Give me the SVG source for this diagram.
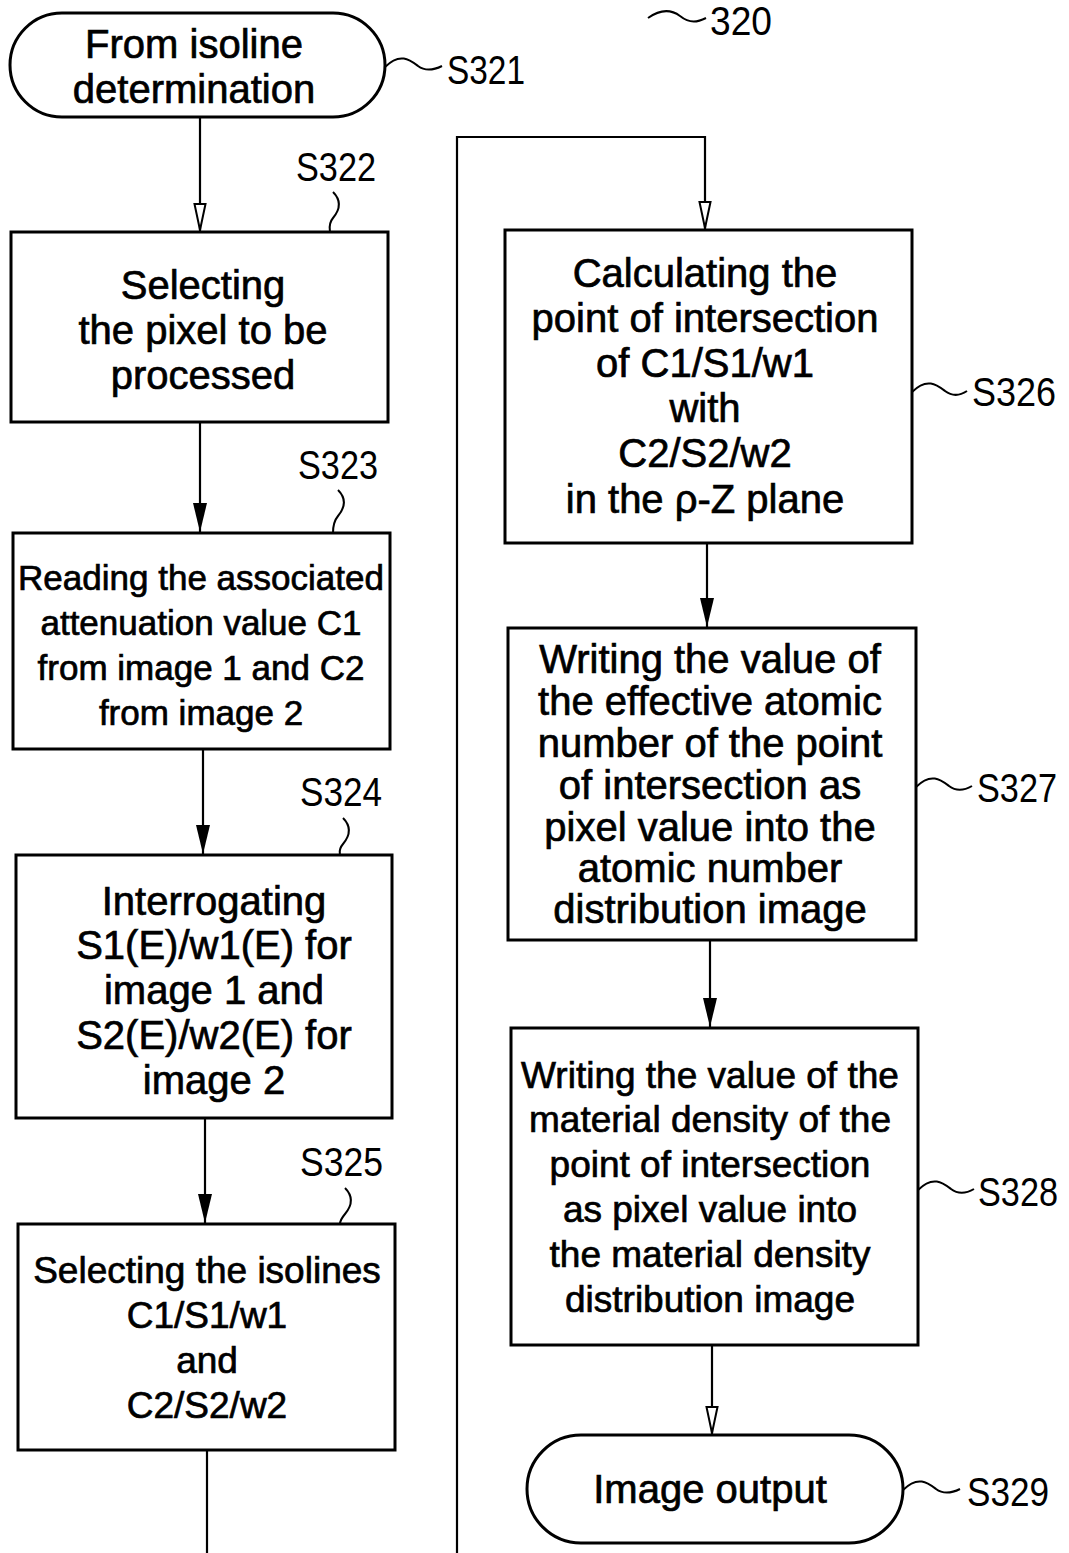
<svg xmlns="http://www.w3.org/2000/svg" width="1069" height="1553" viewBox="0 0 1069 1553">
  <style>
    .box { fill: #fff; stroke: #000; stroke-width: 3; }
    .t { font-family: "Liberation Sans", Arial, sans-serif; font-size: 40px; fill: #000; stroke: #000; stroke-width: 0.7; text-anchor: middle; }
    .t35 { font-size: 35px; }
    .t37 { font-size: 37px; }
    .lbl { font-family: "Liberation Sans", Arial, sans-serif; font-size: 40px; fill: #000; }
    .lead { fill: none; stroke: #000; stroke-width: 2; }
    .wire { fill: none; stroke: #000; stroke-width: 2.2; }
  </style>
  <defs>
    <!-- arrowheads drawn along +x, rotated to the line direction -->
    <marker id="solid" markerWidth="30" markerHeight="14" refX="29" refY="7" orient="auto" markerUnits="userSpaceOnUse" viewBox="0 0 30 14">
      <path d="M0,0 L29,7 L0,14 Z" fill="#000"/>
    </marker>
    <marker id="open" markerWidth="30" markerHeight="14" refX="29" refY="7" orient="auto" markerUnits="userSpaceOnUse" viewBox="0 0 30 14">
      <path d="M2,1.5 L28,7 L2,12.5 Z" fill="#fff" stroke="#000" stroke-width="2"/>
    </marker>
  </defs>

  <!-- connectors -->
  <g id="connectors">
    <path class="wire" d="M200,117 V231" marker-end="url(#open)"/>
    <path class="wire" d="M200,422 V532" marker-end="url(#solid)"/>
    <path class="wire" d="M203,749 V854" marker-end="url(#solid)"/>
    <path class="wire" d="M205,1118 V1223" marker-end="url(#solid)"/>
    <path class="wire" d="M207,1450 V1553"/>
    <path class="wire" d="M457,1553 V137 H705 V229" marker-end="url(#open)"/>
    <path class="wire" d="M707,543 V627" marker-end="url(#solid)"/>
    <path class="wire" d="M710,940 V1027" marker-end="url(#solid)"/>
    <path class="wire" d="M712,1345 V1434" marker-end="url(#open)"/>
  </g>

  <!-- figure number -->
  <g id="fig-ref">
    <path class="lead" d="M648,18 C662,8 672,10 680,16 C690,24 698,22 706,18"/>
    <text class="lbl" x="710" y="35" textLength="62" lengthAdjust="spacingAndGlyphs">320</text>
  </g>

  <g id="S321">
    <rect class="box" x="10" y="13" width="375" height="104" rx="52" ry="52"/>
    <text class="t" x="194" y="58">From isoline</text>
    <text class="t" x="194" y="103">determination</text>
    <path class="lead" d="M385,67 C400,52 410,60 418,66 C426,72 434,70 442,66"/>
    <text class="lbl" x="447" y="84" textLength="78" lengthAdjust="spacingAndGlyphs">S321</text>
  </g>

  <g id="S322">
    <rect class="box" x="11" y="232" width="377" height="190"/>
    <text class="t" x="203" y="299">Selecting</text>
    <text class="t" x="203" y="344">the pixel to be</text>
    <text class="t" x="203" y="389">processed</text>
    <path class="lead" d="M333,192 C343,202 338,212 333,218 C328,224 330,230 330,232"/>
    <text class="lbl" x="296" y="181" textLength="80" lengthAdjust="spacingAndGlyphs">S322</text>
  </g>

  <g id="S323">
    <rect class="box" x="13" y="533" width="377" height="216"/>
    <text class="t t35" x="201" y="590">Reading the associated</text>
    <text class="t t35" x="201" y="635">attenuation value C1</text>
    <text class="t t35" x="201" y="680">from image 1 and C2</text>
    <text class="t t35" x="201" y="725">from image 2</text>
    <path class="lead" d="M338,490 C348,500 343,510 338,516 C333,522 333,528 333,533"/>
    <text class="lbl" x="298" y="479" textLength="80" lengthAdjust="spacingAndGlyphs">S323</text>
  </g>

  <g id="S324">
    <rect class="box" x="16" y="855" width="376" height="263"/>
    <text class="t" x="214" y="915">Interrogating</text>
    <text class="t" x="214" y="959">S1(E)/w1(E) for</text>
    <text class="t" x="214" y="1004">image 1 and</text>
    <text class="t" x="214" y="1049">S2(E)/w2(E) for</text>
    <text class="t" x="214" y="1094">image 2</text>
    <path class="lead" d="M343,818 C353,828 348,838 343,844 C338,850 340,853 340,855"/>
    <text class="lbl" x="300" y="806" textLength="82" lengthAdjust="spacingAndGlyphs">S324</text>
  </g>

  <g id="S325">
    <rect class="box" x="18" y="1224" width="377" height="226"/>
    <text class="t t37" x="207" y="1283">Selecting the isolines</text>
    <text class="t t37" x="207" y="1328">C1/S1/w1</text>
    <text class="t t37" x="207" y="1373">and</text>
    <text class="t t37" x="207" y="1418">C2/S2/w2</text>
    <path class="lead" d="M345,1188 C355,1198 350,1208 345,1214 C340,1220 340,1222 340,1224"/>
    <text class="lbl" x="300" y="1176" textLength="83" lengthAdjust="spacingAndGlyphs">S325</text>
  </g>

  <g id="S326">
    <rect class="box" x="505" y="230" width="407" height="313"/>
    <text class="t" x="705" y="287">Calculating the</text>
    <text class="t" x="705" y="332">point of intersection</text>
    <text class="t" x="705" y="377">of C1/S1/w1</text>
    <text class="t" x="705" y="422">with</text>
    <text class="t" x="705" y="467">C2/S2/w2</text>
    <text class="t" x="705" y="513">in the ρ-Z plane</text>
    <path class="lead" d="M912,392 C927,377 937,385 945,391 C953,397 961,395 967,391"/>
    <text class="lbl" x="972" y="406" textLength="84" lengthAdjust="spacingAndGlyphs">S326</text>
  </g>

  <g id="S327">
    <rect class="box" x="508" y="628" width="408" height="312"/>
    <text class="t" x="710" y="673">Writing the value of</text>
    <text class="t" x="710" y="715">the effective atomic</text>
    <text class="t" x="710" y="757">number of the point</text>
    <text class="t" x="710" y="799">of intersection as</text>
    <text class="t" x="710" y="841">pixel value into the</text>
    <text class="t" x="710" y="882">atomic number</text>
    <text class="t" x="710" y="923">distribution image</text>
    <path class="lead" d="M916,787 C931,772 941,780 949,786 C957,792 965,790 972,786"/>
    <text class="lbl" x="977" y="802" textLength="80" lengthAdjust="spacingAndGlyphs">S327</text>
  </g>

  <g id="S328">
    <rect class="box" x="511" y="1028" width="407" height="317"/>
    <text class="t t37" x="710" y="1088">Writing the value of the</text>
    <text class="t t37" x="710" y="1132">material density of the</text>
    <text class="t t37" x="710" y="1177">point of intersection</text>
    <text class="t t37" x="710" y="1222">as pixel value into</text>
    <text class="t t37" x="710" y="1267">the material density</text>
    <text class="t t37" x="710" y="1312">distribution image</text>
    <path class="lead" d="M918,1190 C933,1175 943,1183 951,1189 C959,1195 967,1193 974,1189"/>
    <text class="lbl" x="978" y="1206" textLength="80" lengthAdjust="spacingAndGlyphs">S328</text>
  </g>

  <g id="S329">
    <rect class="box" x="527" y="1435" width="376" height="108" rx="54" ry="54"/>
    <text class="t" x="710" y="1503">Image output</text>
    <path class="lead" d="M903,1490 C918,1475 928,1483 936,1489 C944,1495 952,1493 960,1489"/>
    <text class="lbl" x="967" y="1506" textLength="82" lengthAdjust="spacingAndGlyphs">S329</text>
  </g>
</svg>
